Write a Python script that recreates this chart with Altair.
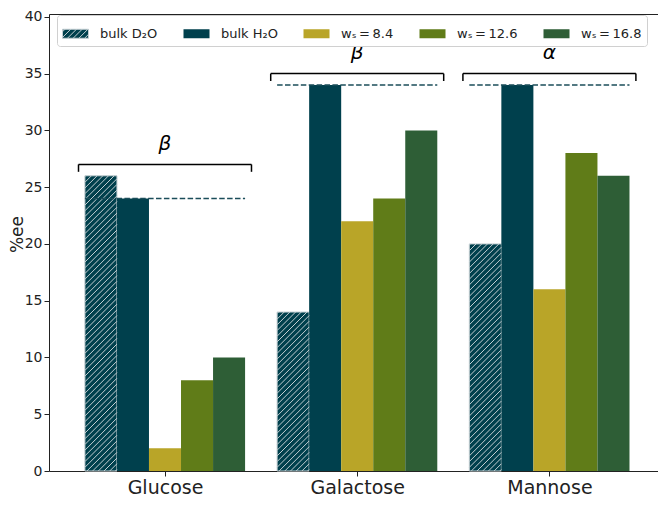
import json
import altair as alt
import pandas as pd

# ---------------- data ----------------
sugars = ["Glucose", "Galactose", "Mannose"]
series = ["bulk D₂O", "bulk H₂O", "wₛ\u2009=\u20098.4", "wₛ\u2009=\u200912.6", "wₛ\u2009=\u200916.8"]
colors = ["#00404D", "#00404D", "#B9A528", "#607C18", "#2E5E36"]
edge_colors = ["#C3CED2", "transparent", "transparent", "transparent", "transparent"]
ee_bulk_d2o = [26, 14, 20]
ee_bulk_h2o = [24, 34, 34]
ee_ws_84 = [2, 22, 16]
ee_ws_126 = [8, 24, 28]
ee_ws_168 = [10, 30, 26]
bracket_labels = ["β", "β", "α"]
bracket_top = [27, 35, 35]
y_ticks = [0, 5, 10, 15, 20, 25, 30, 35, 40]

# ---------------- layout ----------------
W, H = 609, 457
XDOM = [-0.6035, 2.565]
YDOM = [0, 40.25]
BAR_W = 1 / 6
px_x = W / (XDOM[1] - XDOM[0])
px_y = H / (YDOM[1] - YDOM[0])
HATCH_STEP = 5.7  # px

values_by_series = [ee_bulk_d2o, ee_bulk_h2o, ee_ws_84, ee_ws_126, ee_ws_168]

bar_rows = []
for j, (name, vals) in enumerate(zip(series, values_by_series)):
    for i, v in enumerate(vals):
        c = i + (j - 2) * BAR_W
        bar_rows.append({"series": name, "x0": c - BAR_W / 2, "x1": c + BAR_W / 2,
                         "y0": 0, "y1": v})
bars_df = pd.DataFrame(bar_rows)

# hatch lines for the bulk D2O bars
hatch_rows = []
for i, v in enumerate(ee_bulk_d2o):
    x0 = i - 2 * BAR_W - BAR_W / 2
    w = BAR_W * px_x
    h = v * px_y
    k = -int(h / HATCH_STEP) - 1
    while True:
        c = k * HATCH_STEP + 2.0
        k += 1
        if c <= -h:
            continue
        if c >= w:
            break
        sx, sy = (c, 0.0) if c >= 0 else (0.0, -c)
        ex, ey = (c + h, h) if c + h <= w else (w, w - c)
        hatch_rows.append({"x0": x0 + sx / px_x, "x1": x0 + ex / px_x,
                           "y0": sy / px_y, "y1": ey / px_y})
hatch_df = pd.DataFrame(hatch_rows)

dash_df = pd.DataFrame({"x0": [i - 2.5 * BAR_W for i in range(3)],
                        "x1": [i + 2.5 * BAR_W for i in range(3)],
                        "y0": ee_bulk_h2o})

BR = 0.45
TICK = 0.65
br_rows = []
for i, t in enumerate(bracket_top):
    br_rows.append({"x0": i - BR, "x1": i + BR, "y0": t, "y1": t})
    br_rows.append({"x0": i - BR, "x1": i - BR, "y0": t - TICK, "y1": t})
    br_rows.append({"x0": i + BR, "x1": i + BR, "y0": t - TICK, "y1": t})
br_df = pd.DataFrame(br_rows)
lab_df = pd.DataFrame({"x0": [0, 1, 2], "y0": [t + 1.8 for t in bracket_top],
                       "txt": bracket_labels})

FONT = "DejaVu Sans"
xscale = alt.Scale(domain=XDOM, nice=False, zero=False)
yscale = alt.Scale(domain=YDOM, nice=False, zero=False)

x_axis = alt.Axis(values=[0, 1, 2], labelExpr=f"{json.dumps(sugars)}[datum.value]",
                  title=None, grid=False, tickSize=5, labelFontSize=19, labelFont=FONT,
                  labelPadding=2, domain=False, tickColor="#222", labelColor="#222")
y_axis = alt.Axis(values=y_ticks, title="%ee", grid=False, tickSize=5, labelFontSize=14,
                  labelFont=FONT, labelPadding=2, domain=False, tickColor="#222",
                  labelColor="#222", titleFont=FONT, titleFontSize=17,
                  titleFontWeight="normal", titleColor="#222", titleX=-31.5, titleY=220,
                  titleAngle=270, titleAlign="center", titleBaseline="middle")

X = alt.X("x0:Q", scale=xscale, axis=x_axis)
Y = alt.Y("y0:Q", scale=yscale, axis=y_axis)

legend = alt.Legend(title=None)

bars = alt.Chart(bars_df).mark_rect(strokeWidth=1).encode(
    x=X, x2="x1:Q",
    y=alt.Y("y1:Q", scale=yscale, axis=y_axis), y2="y0:Q",
    color=alt.Color("series:N", scale=alt.Scale(domain=series, range=colors), legend=legend),
    stroke=alt.Stroke("series:N", scale=alt.Scale(domain=series, range=edge_colors), legend=legend),
)

hatch = alt.Chart(hatch_df).mark_rule(color="#C3CED2", strokeWidth=1).encode(
    x=X, x2="x1:Q", y=Y, y2="y1:Q",
)

dashed = alt.Chart(dash_df).mark_rule(color="#1B4D5A", strokeWidth=1.5,
                                      strokeDash=[5.5, 2.4]).encode(
    x=X, x2="x1:Q", y=Y,
)

brackets = alt.Chart(br_df).mark_rule(color="black", strokeWidth=1.5).encode(
    x=X, x2="x1:Q", y=Y, y2="y1:Q",
)

labels = alt.Chart(lab_df).mark_text(font=FONT, fontStyle="italic", fontSize=20,
                                     color="black", baseline="middle").encode(
    x=X, y=Y, text="txt:N",
)

symbol_path = ("M-1,-0.346H1V0.346H-1Z"
               "M-1,-0.154L-0.808,-0.346"
               "M-1,0.286L-0.368,-0.346"
               "M-0.62,0.346L0.072,-0.346"
               "M-0.18,0.346L0.512,-0.346"
               "M0.26,0.346L0.952,-0.346"
               "M0.7,0.346L1,0.046")

chart = alt.layer(bars, hatch, dashed, brackets, labels).properties(
    width=W, height=H,
    autosize=alt.AutoSizeParams(type="none"),
    padding={"left": 41, "top": 6, "right": 0, "bottom": 28},
).configure_view(
    stroke="#222", strokeWidth=1
).configure_legend(
    orient="none", legendX=8, legendY=1, direction="horizontal", columns=5,
    symbolType=symbol_path, symbolSize=676, symbolStrokeWidth=1,
    labelFont=FONT, labelFontSize=13, labelColor="#222", labelOffset=11,
    columnPadding=23, padding=5, fillColor="white", strokeColor="#D0D0D0",
    cornerRadius=3,
)

chart.save("out.html", embed_options={"renderer": "svg", "actions": False})
